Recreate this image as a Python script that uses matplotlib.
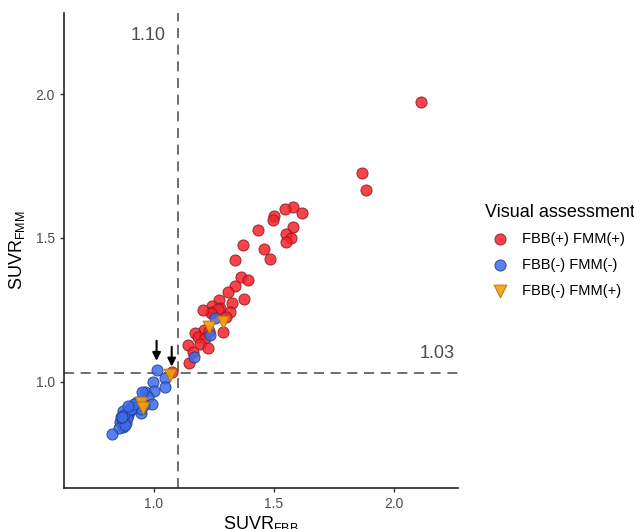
import matplotlib
matplotlib.use("Agg")
import matplotlib.pyplot as plt
import numpy as np

plt.rcParams['font.family'] = ['Liberation Sans', 'DejaVu Sans']

# FBB(+) FMM(+)
red_x = [2.115, 1.868, 1.885, 1.579, 1.547, 1.617, 1.501, 1.497, 1.432, 1.580,
         1.551, 1.571, 1.550, 1.370, 1.461, 1.340, 1.483, 1.3625, 1.393, 1.340,
         1.310, 1.375, 1.270, 1.325, 1.243, 1.275, 1.242, 1.317, 1.300, 1.289,
         1.207, 1.171, 1.183, 1.214, 1.190, 1.226, 1.140, 1.161, 1.145, 1.075,
         1.267, 1.231, 1.236, 1.206]
red_y = [1.973, 1.725, 1.666, 1.606, 1.600, 1.585, 1.578, 1.564, 1.528, 1.537,
         1.512, 1.499, 1.485, 1.476, 1.461, 1.424, 1.426, 1.363, 1.353, 1.331,
         1.312, 1.287, 1.285, 1.272, 1.262, 1.257, 1.243, 1.243, 1.224, 1.172,
         1.179, 1.170, 1.156, 1.152, 1.130, 1.117, 1.127, 1.104, 1.065, 1.035,
         1.253, 1.177, 1.238, 1.250]

# FBB(-) FMM(-)
blue_x = [1.253, 1.235, 1.167, 1.011, 1.046, 0.997, 1.046, 1.001, 0.963, 0.977,
          0.991, 0.931, 0.924, 0.899, 0.944, 0.900, 0.872, 0.890, 0.866, 0.882,
          0.858, 0.871, 0.855, 0.824, 0.950, 0.958, 0.946, 0.886, 0.880, 0.862,
          0.874, 0.905, 0.918, 0.893, 0.868]
blue_y = [1.222, 1.162, 1.086, 1.040, 1.011, 0.997, 0.982, 0.967, 0.963, 0.948,
          0.922, 0.930, 0.913, 0.908, 0.890, 0.896, 0.896, 0.885, 0.866, 0.855,
          0.860, 0.843, 0.838, 0.818, 0.962, 0.919, 0.904, 0.872, 0.850, 0.878,
          0.884, 0.905, 0.921, 0.916, 0.875]

# FBB(-) FMM(+)
orange_x = [1.286, 1.231, 1.067, 0.948, 0.956]
orange_y = [1.209, 1.191, 1.023, 0.927, 0.908]

# reference lines
x_cut = 1.10
y_cut = 1.03

# arrows (x, y_start, y_end)
arrow_x = [1.011, 1.074]
arrow_y0 = [1.142, 1.121]
arrow_y1 = [1.072, 1.052]

xticks = [1.0, 1.5, 2.0]
yticks = [1.0, 1.5, 2.0]

fig = plt.figure(figsize=(6.34, 5.29), dpi=100)
ax = fig.add_axes([0.101, 0.0775, 0.621, 0.8975])

ax.axvline(x_cut, color='#555555', lw=1.2, dashes=(6, 4), zorder=1)
ax.axhline(y_cut, color='#555555', lw=1.2, dashes=(6, 4), zorder=1)

ms = 64
ax.scatter(red_x, red_y, s=ms, marker='o', facecolor='#F5222D', edgecolor='#8B1A1A',
           linewidths=0.7, alpha=0.85, zorder=3, label='FBB(+) FMM(+)')
ax.scatter(blue_x, blue_y, s=ms, marker='o', facecolor='#3D6BEB', edgecolor='#1F3A8A',
           linewidths=0.7, alpha=0.85, zorder=4, label='FBB(-) FMM(-)')
ax.scatter(orange_x, orange_y, s=85, marker='v', facecolor='#F5A010', edgecolor='#B86E00',
           linewidths=0.7, alpha=0.9, zorder=5, label='FBB(-) FMM(+)')

for xa, y0, y1 in zip(arrow_x, arrow_y0, arrow_y1):
    ax.annotate('', xy=(xa, y1), xytext=(xa, y0),
                arrowprops=dict(arrowstyle='-|>', color='black', lw=1.5,
                                mutation_scale=12, shrinkA=0, shrinkB=0), zorder=6)

ax.text(1.048, 2.205, '1.10', ha='right', va='center', fontsize=13, color='#4d4d4d')
ax.text(2.254, 1.099, '1.03', ha='right', va='center', fontsize=13, color='#4d4d4d')

ax.set_xlim(0.625, 2.267)
ax.set_ylim(0.6296, 2.282)
ax.set_xticks(xticks)
ax.set_yticks(yticks)
ax.set_xticklabels([f'{t:.1f}' for t in xticks])
ax.set_yticklabels([f'{t:.1f}' for t in yticks])
ax.tick_params(axis='both', colors='#333333', labelcolor='#4d4d4d', labelsize=10,
               length=3, width=1)
for s in ['top', 'right']:
    ax.spines[s].set_visible(False)
for s in ['left', 'bottom']:
    ax.spines[s].set_color('#222222')
    ax.spines[s].set_linewidth(1.2)

ax.set_xlabel(r'SUVR$_{\mathregular{FBB}}$', fontsize=13, labelpad=2)
ax.set_ylabel(r'SUVR$_{\mathregular{FMM}}$', fontsize=13, labelpad=6)

leg = fig.legend(loc='upper left', bbox_to_anchor=(0.745, 0.64), frameon=False,
                 title='Visual assessment', fontsize=10.5, title_fontsize=13,
                 handletextpad=0.5, labelspacing=0.8, markerscale=1.0)
leg._legend_box.align = 'left'

fig.savefig('out.png', dpi=100)
